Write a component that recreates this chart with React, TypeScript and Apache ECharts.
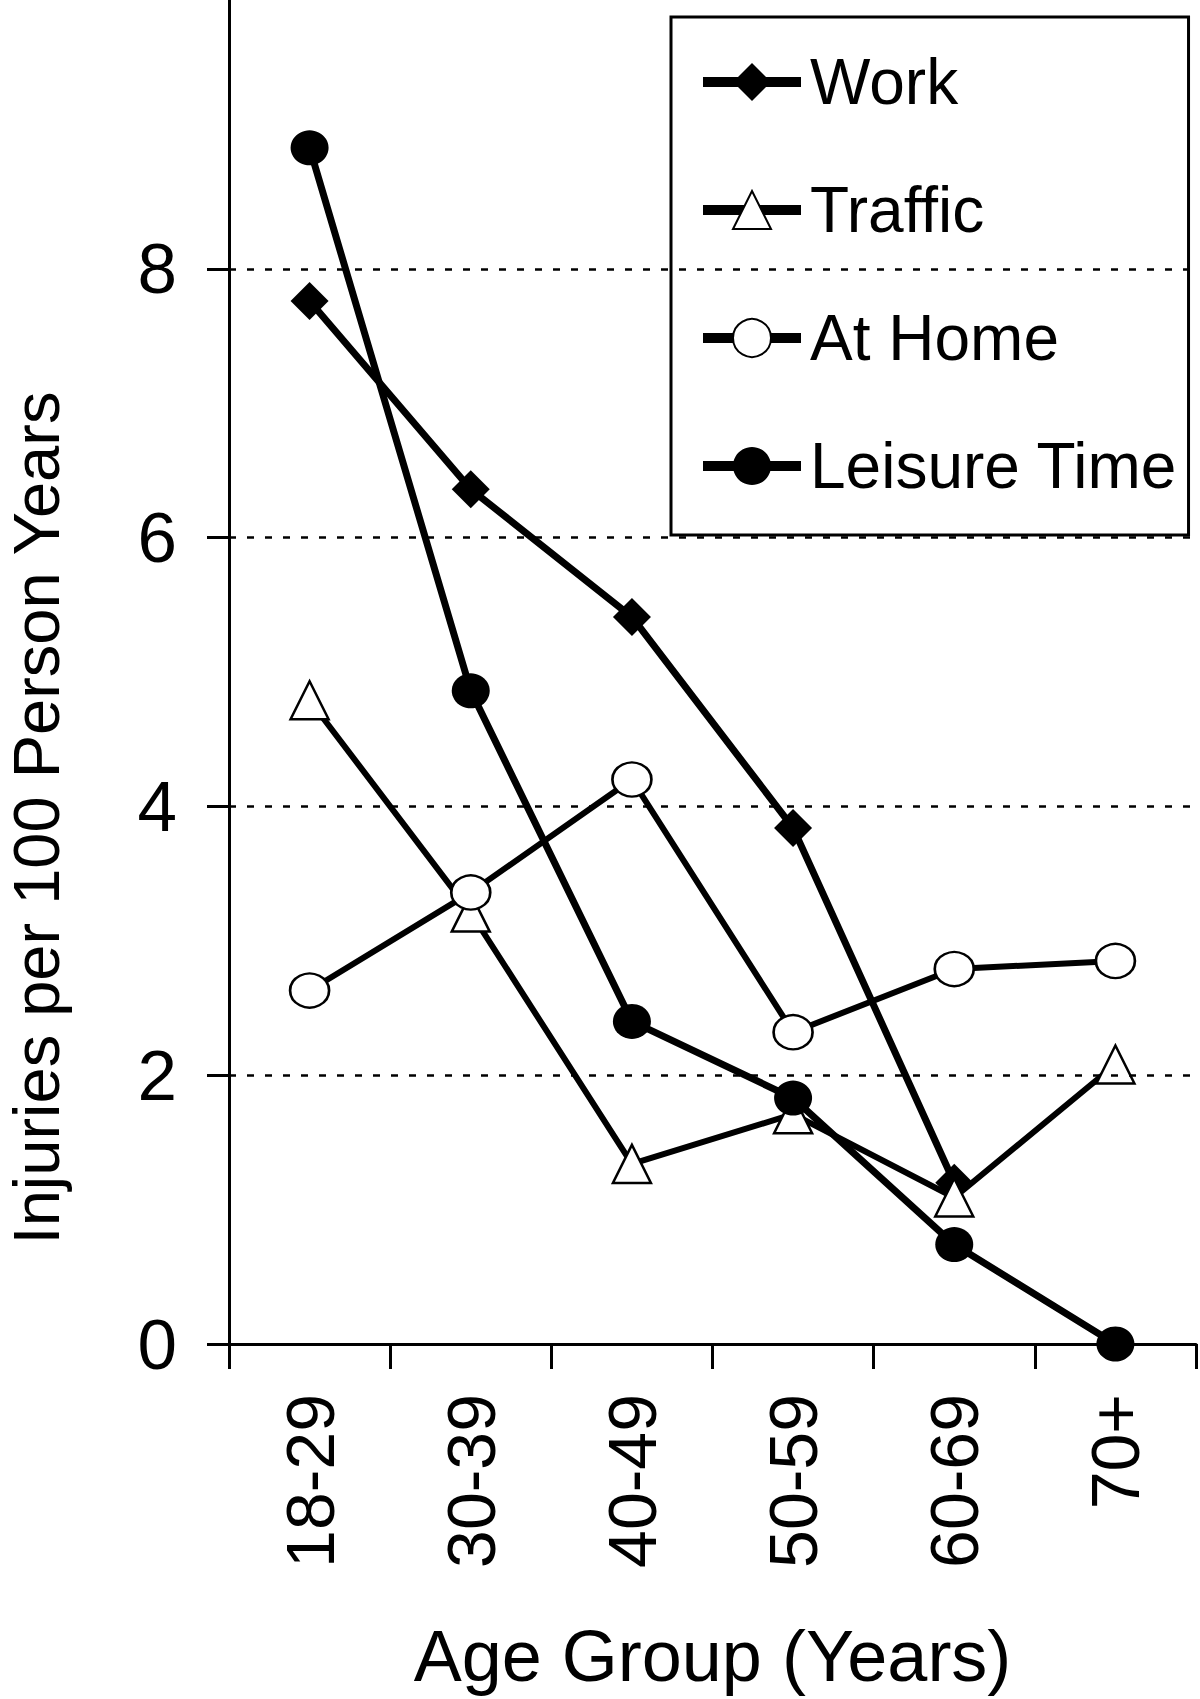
import React, { useEffect, useRef } from "react";
import * as echarts from "echarts";

const categories = ["18-29", "30-39", "40-49", "50-59", "60-69", "70+"];
const workValues = [7.76, 6.36, 5.41, 3.84, 1.2, null];
const trafficValues = [4.79, 3.21, 1.34, 1.71, 1.09, 2.08];
const homeValues = [2.63, 3.36, 4.2, 2.32, 2.79, 2.85];
const leisureValues = [8.9, 4.86, 2.4, 1.83, 0.74, 0.0];
const yTicks = [0, 2, 4, 6, 8];
const gridValues = [2, 4, 6, 8];

const FONT = "'Liberation Sans', Arial, Helvetica, sans-serif";

export default function App() {
  const ref = useRef<HTMLDivElement>(null);
  useEffect(() => {
    if (!ref.current) return;
    const chart = echarts.init(ref.current, undefined, { renderer: "svg" });
    chart.setOption({
      animation: false,
      backgroundColor: "#fff",
      grid: { left: 229, right: 4, top: -1, bottom: 355, containLabel: false },
      legend: {
        orient: "vertical",
        left: 671,
        top: 17,
        padding: [33, 11, 37, 27],
        itemWidth: 98,
        itemHeight: 47.5,
        itemGap: 64,
        borderColor: "#000",
        borderWidth: 3,
        borderRadius: 0,
        backgroundColor: "#fff",
        lineStyle: { width: 10 },
        textStyle: {
          fontSize: 64,
          fontFamily: FONT,
          color: "#000",
          padding: [0, 0, 0, 4],
        },
        data: ["Work", "Traffic", "At Home", "Leisure Time"],
      },
      xAxis: {
        type: "category",
        data: categories,
        boundaryGap: true,
        axisLine: { lineStyle: { color: "#000", width: 3 } },
        axisTick: { show: true, length: 25, lineStyle: { color: "#000", width: 3 } },
        axisLabel: {
          rotate: 90,
          fontSize: 68,
          fontFamily: FONT,
          color: "#000",
          margin: 50,
        },
        name: "Age Group (Years)",
        nameLocation: "middle",
        nameGap: 276,
        nameTextStyle: { fontSize: 72, fontFamily: FONT, color: "#000", lineHeight: 72 },
        splitLine: { show: false },
      },
      yAxis: {
        type: "value",
        min: 0,
        max: 10,
        interval: 2,
        axisLine: { show: true, lineStyle: { color: "#000", width: 3 } },
        axisTick: { show: true, length: 22, lineStyle: { color: "#000", width: 3 } },
        axisLabel: {
          fontSize: 71,
          fontFamily: FONT,
          color: "#000",
          margin: 52,
          showMaxLabel: false,
          formatter: (v: number) => (yTicks.includes(v) ? String(v) : ""),
        },
        splitLine: { show: false },
      },
      graphic: [
        {
          type: "text",
          x: 36,
          y: 818,
          rotation: Math.PI / 2,
          style: {
            text: "Injuries per 100 Person Years",
            fontSize: 65,
            fontFamily: FONT,
            fill: "#000",
            align: "center",
            verticalAlign: "middle",
          },
        },
      ],
      series: [
        {
          name: "Work",
          type: "line",
          data: workValues,
          symbol: "diamond",
          symbolSize: 38,
          itemStyle: { color: "#000" },
          lineStyle: { color: "#000", width: 7 },
          markLine: {
            silent: true,
            symbol: "none",
            label: { show: false },
            lineStyle: { color: "#000", width: 2.5, type: [7, 11] },
            emphasis: { disabled: true },
            data: gridValues.map((v) => ({ yAxis: v })),
          },
        },
        {
          name: "Traffic",
          type: "line",
          data: trafficValues,
          symbol: "triangle",
          symbolSize: 38,
          itemStyle: { color: "#fff", borderColor: "#000", borderWidth: 2.5 },
          lineStyle: { color: "#000", width: 6 },
        },
        {
          name: "At Home",
          type: "line",
          data: homeValues,
          symbol: "circle",
          symbolSize: [39, 34],
          itemStyle: { color: "#fff", borderColor: "#000", borderWidth: 2.5 },
          lineStyle: { color: "#000", width: 6 },
        },
        {
          name: "Leisure Time",
          type: "line",
          data: leisureValues,
          symbol: "circle",
          symbolSize: [38, 35],
          itemStyle: { color: "#000" },
          lineStyle: { color: "#000", width: 7 },
        },
      ],
    });
    return () => chart.dispose();
  }, []);
  return (
    <div
      ref={ref}
      style={{ position: "absolute", left: 0, top: 0, width: 1200, height: 1699 }}
    />
  );
}
